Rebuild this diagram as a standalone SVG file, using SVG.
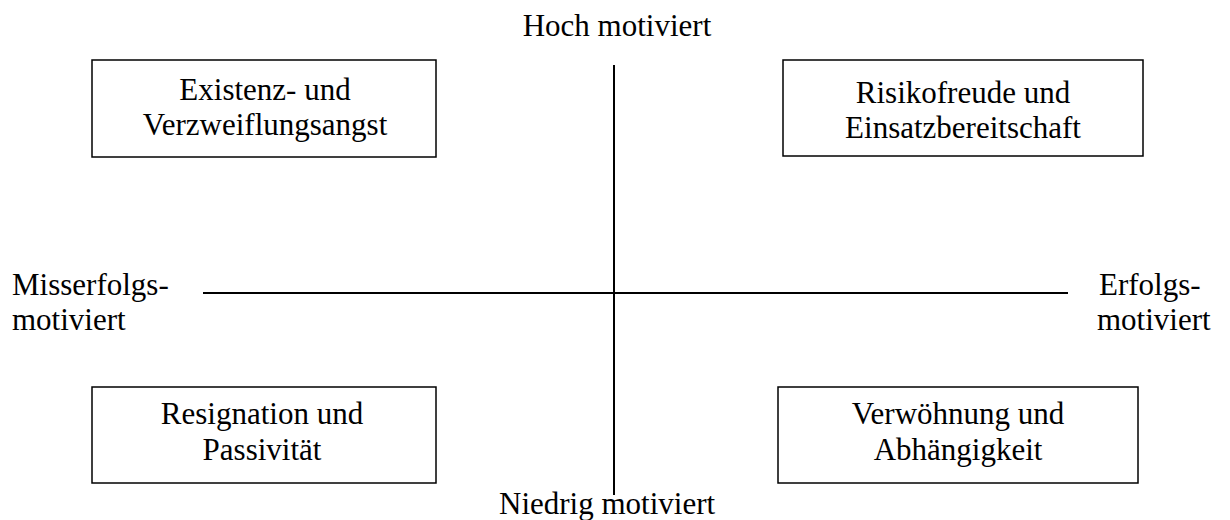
<svg xmlns="http://www.w3.org/2000/svg" width="1230" height="520" viewBox="0 0 1230 520">
  <style>
    text { font-family: "Liberation Serif", "Times New Roman", serif; font-size: 31px; fill: #000; }
    .c { text-anchor: middle; }
    .box { fill: #fff; stroke: #000; stroke-width: 1.5; }
    .axis { stroke: #000; stroke-width: 2; fill: none; }
  </style>
  <rect width="1230" height="520" fill="#fff"/>

  <!-- axes -->
  <g id="connectors">
    <line class="axis" x1="614" y1="65" x2="614" y2="495"/>
    <line class="axis" x1="203" y1="293" x2="1068" y2="293"/>
  </g>

  <!-- axis labels -->
  <g id="label-top"><text class="c" x="617" y="36">Hoch motiviert</text></g>
  <g id="label-bottom"><text x="499" y="514">Niedrig motiviert</text></g>
  <g id="label-left">
    <text x="12" y="295">Misserfolgs-</text>
    <text x="12" y="330">motiviert</text>
  </g>
  <g id="label-right">
    <text x="1099" y="295">Erfolgs-</text>
    <text x="1097" y="330">motiviert</text>
  </g>

  <!-- quadrants -->
  <g id="box-top-left">
    <rect class="box" x="92" y="60" width="344" height="97"/>
    <text class="c" x="265" y="100">Existenz- und</text>
    <text class="c" x="265" y="135">Verzweiflungsangst</text>
  </g>
  <g id="box-top-right">
    <rect class="box" x="783" y="60" width="360" height="96"/>
    <text class="c" x="963" y="103">Risikofreude und</text>
    <text class="c" x="963" y="138">Einsatzbereitschaft</text>
  </g>
  <g id="box-bottom-left">
    <rect class="box" x="92" y="387" width="344" height="96"/>
    <text class="c" x="262" y="424">Resignation und</text>
    <text class="c" x="262" y="460">Passivität</text>
  </g>
  <g id="box-bottom-right">
    <rect class="box" x="778" y="387" width="360" height="96"/>
    <text class="c" x="958" y="424">Verwöhnung und</text>
    <text class="c" x="958" y="460">Abhängigkeit</text>
  </g>
</svg>
